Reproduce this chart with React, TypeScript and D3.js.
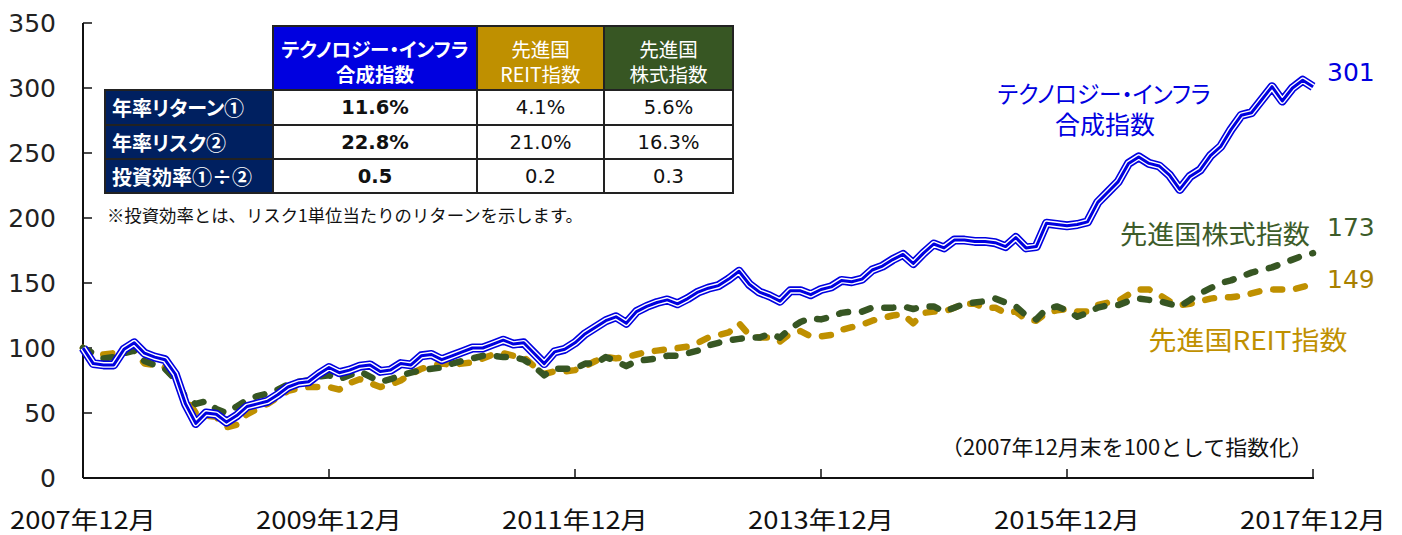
import React from "react";
import * as d3 from "d3";

const techInfra = [100, 88, 87, 87, 99, 104, 96, 93, 91, 80, 57, 42, 50, 49, 43, 48, 55, 57, 59, 64, 70, 73, 74, 80, 85, 81, 83, 86, 87, 82, 83, 88, 87, 94, 95, 91, 94, 97, 100, 100, 103, 106, 103, 104, 96, 88, 97, 99, 104, 111, 116, 121, 124, 119, 128, 132, 135, 137, 134, 138, 143, 146, 148, 153, 159, 149, 143, 140, 136, 144, 144, 141, 145, 147, 152, 151, 153, 160, 163, 168, 172, 165, 173, 180, 177, 183, 183, 182, 182, 181, 178, 185, 177, 178, 196, 195, 194, 195, 197, 212, 220, 228, 242, 247, 242, 240, 233, 222, 232, 237, 248, 255, 268, 279, 281, 291, 301, 290, 300, 306, 301];
const devStock = [100, 96, 92, 93, 96, 98, 90, 87, 84, 76, 62, 57, 59, 53, 50, 55, 60, 63, 65, 68, 72, 74, 75, 78, 79, 76, 79, 82, 78, 74, 76, 79, 81, 83, 84, 85, 88, 90, 92, 94, 94, 93, 93, 91, 86, 79, 84, 84, 84, 88, 88, 93, 90, 86, 90, 91, 92, 94, 94, 96, 98, 102, 104, 106, 107, 108, 108, 111, 108, 115, 120, 123, 122, 124, 127, 128, 128, 131, 131, 131, 132, 130, 132, 132, 128, 131, 134, 135, 136, 138, 135, 132, 125, 122, 130, 132, 129, 124, 127, 131, 133, 133, 136, 138, 137, 136, 134, 132, 137, 142, 146, 150, 152, 155, 158, 160, 162, 165, 168, 171, 173];
const devReit = [100, 94, 95, 96, 99, 98, 88, 87, 85, 76, 62, 50, 48, 47, 39, 41, 49, 53, 57, 62, 67, 69, 70, 70, 70, 68, 73, 76, 73, 70, 72, 75, 80, 84, 86, 88, 87, 88, 89, 92, 95, 96, 94, 93, 86, 80, 82, 82, 83, 86, 90, 93, 92, 93, 95, 97, 98, 99, 100, 101, 104, 108, 110, 112, 119, 110, 108, 108, 105, 111, 113, 109, 109, 110, 114, 116, 118, 121, 123, 125, 126, 119, 127, 128, 128, 131, 134, 134, 131, 131, 127, 128, 122, 121, 127, 129, 130, 128, 128, 133, 135, 136, 141, 145, 145, 141, 136, 133, 134, 136, 138, 139, 139, 140, 142, 144, 145, 145, 145, 147, 149];

const xTickLabels = ["2007年12月", "2009年12月", "2011年12月", "2013年12月", "2015年12月", "2017年12月"];
const yTicks = [0, 50, 100, 150, 200, 250, 300, 350];

const tableHeaders = [["テクノロジー・インフラ", "合成指数"], ["先進国", "REIT指数"], ["先進国", "株式指数"]];
const rowLabels = ["年率リターン①", "年率リスク②", "投資効率①÷②"];
const techStats = ["11.6%", "22.8%", "0.5"];
const reitStats = ["4.1%", "21.0%", "0.2"];
const stockStats = ["5.6%", "16.3%", "0.3"];

const BLUE = "#0000e0";
const GOLD = "#BF9000";
const GREEN = "#375623";
const NAVY = "#002060";
const FONT = "'DejaVu Sans', 'Noto Sans CJK JP', sans-serif";
const JP = "'Noto Sans CJK JP', sans-serif";
const palt = { fontFeatureSettings: '"palt"' } as React.CSSProperties;

export default function App() {
  const W = 1402, H = 535;
  const x = d3.scaleLinear().domain([0, 120]).range([83, 1313]);
  const y = d3.scaleLinear().domain([0, 350]).range([478, 23]);
  const line = d3.line<number>().x((_, i) => x(i)).y((d) => y(d));

  const colX = [105, 273, 477, 604, 733];
  const rowY = [26, 90, 125, 159, 193];
  const colFills = [BLUE, GOLD, GREEN];
  const stats = [techStats, reitStats, stockStats];

  return (
    <svg width={W} height={H} style={{ position: "absolute", left: 0, top: 0, background: "#fff" }}>
      {/* axes */}
      <line x1={83} x2={83} y1={y(350)} y2={y(0)} stroke="#111" strokeWidth={2} />
      <line x1={83} x2={1314} y1={y(0)} y2={y(0)} stroke="#111" strokeWidth={2} />
      {yTicks.map((t) => (
        <g key={t}>
          <line x1={83} x2={92} y1={y(t)} y2={y(t)} stroke="#111" strokeWidth={1.5} />
          <text x={56} y={y(t)} textAnchor="end" dominantBaseline="central" fontFamily={FONT} fontSize={25} fill="#222">{t}</text>
        </g>
      ))}
      {xTickLabels.map((lab, i) => (
        <g key={lab}>
          <line x1={x(i * 24)} x2={x(i * 24)} y1={y(0)} y2={y(0) - 9} stroke="#111" strokeWidth={1.5} />
          <text x={x(i * 24)} y={529} textAnchor="middle" fontFamily={JP} fontSize={24} fill="#111" textLength={146} lengthAdjust="spacingAndGlyphs">{lab}</text>
        </g>
      ))}

      {/* series */}
      <path d={line(devReit) || ""} fill="none" stroke={GOLD} strokeWidth={6.5} strokeDasharray="9 14" strokeLinecap="round" strokeLinejoin="round" />
      <path d={line(devStock) || ""} fill="none" stroke={GREEN} strokeWidth={6.5} strokeDasharray="9 14" strokeLinecap="round" strokeLinejoin="round" />
      <path d={line(techInfra) || ""} fill="none" stroke={BLUE} strokeWidth={9} strokeLinejoin="round" />
      <path d={line(techInfra) || ""} fill="none" stroke="#fff" strokeWidth={5.8} strokeLinejoin="round" />
      <path d={line(techInfra) || ""} fill="none" stroke={BLUE} strokeWidth={3} strokeLinejoin="round" />

      {/* series labels */}
      <text x={1104} y={103} textAnchor="middle" fontFamily={JP} fontSize={24} fill={BLUE} style={palt} textLength={213} lengthAdjust="spacingAndGlyphs">テクノロジー・インフラ</text>
      <text x={1105} y={134} textAnchor="middle" fontFamily={JP} fontSize={25} fill={BLUE} style={palt}>合成指数</text>
      <text x={1327} y={81} fontFamily={FONT} fontSize={25} fill={BLUE}>{techInfra[120]}</text>
      <text x={1215} y={244} textAnchor="middle" fontFamily={JP} fontSize={26} fill="#3d5c2a" style={palt} textLength={190} lengthAdjust="spacingAndGlyphs">先進国株式指数</text>
      <text x={1327} y={236} fontFamily={FONT} fontSize={25} fill="#3d5c2a">{devStock[120]}</text>
      <text x={1248} y={350} textAnchor="middle" fontFamily={JP} fontSize={26} fill={GOLD} style={palt} textLength={199} lengthAdjust="spacingAndGlyphs">先進国REIT指数</text>
      <text x={1327} y={288} fontFamily={FONT} fontSize={25} fill="#a88000">{devReit[120]}</text>

      <text x={1313} y={455} textAnchor="end" fontFamily={JP} fontSize={21} fill="#111" textLength={372} lengthAdjust="spacingAndGlyphs">（2007年12月末を100として指数化）</text>

      {/* table */}
      {colFills.map((c, i) => (
        <rect key={"h" + i} x={colX[i + 1]} y={rowY[0]} width={colX[i + 2] - colX[i + 1]} height={rowY[1] - rowY[0]} fill={c} stroke="#222" strokeWidth={2} />
      ))}
      {tableHeaders.map((h, i) => (
        <g key={"ht" + i}>
          {h.map((s, j) => (
            <text key={j} x={(colX[i + 1] + colX[i + 2]) / 2} y={48 + j * 25} textAnchor="middle" dominantBaseline="central" fontFamily={JP} fontSize={19.5} fontWeight={i === 0 ? 700 : 400} fill="#fff" style={palt}>{s}</text>
          ))}
        </g>
      ))}
      {rowLabels.map((r, ri) => (
        <g key={"r" + ri}>
          <rect x={colX[0]} y={rowY[ri + 1]} width={colX[1] - colX[0]} height={rowY[ri + 2] - rowY[ri + 1]} fill={NAVY} stroke="#222" strokeWidth={2} />
          <text x={112} y={(rowY[ri + 1] + rowY[ri + 2]) / 2} dominantBaseline="central" fontFamily={JP} fontSize={20} fontWeight={700} fill="#fff" style={palt}>{r}</text>
          {stats.map((s, ci) => (
            <g key={ci}>
              <rect x={colX[ci + 1]} y={rowY[ri + 1]} width={colX[ci + 2] - colX[ci + 1]} height={rowY[ri + 2] - rowY[ri + 1]} fill="#fff" stroke="#222" strokeWidth={2} />
              <text x={(colX[ci + 1] + colX[ci + 2]) / 2} y={(rowY[ri + 1] + rowY[ri + 2]) / 2} textAnchor="middle" dominantBaseline="central" fontFamily={FONT} fontSize={19.5} fontWeight={ci === 0 ? 700 : 400} fill="#111">{s[ri]}</text>
            </g>
          ))}
        </g>
      ))}
      <text x={107} y={222} fontFamily={JP} fontSize={17.5} fill="#111" textLength={476} lengthAdjust="spacingAndGlyphs">※投資効率とは、リスク1単位当たりのリターンを示します。</text>
    </svg>
  );
}
